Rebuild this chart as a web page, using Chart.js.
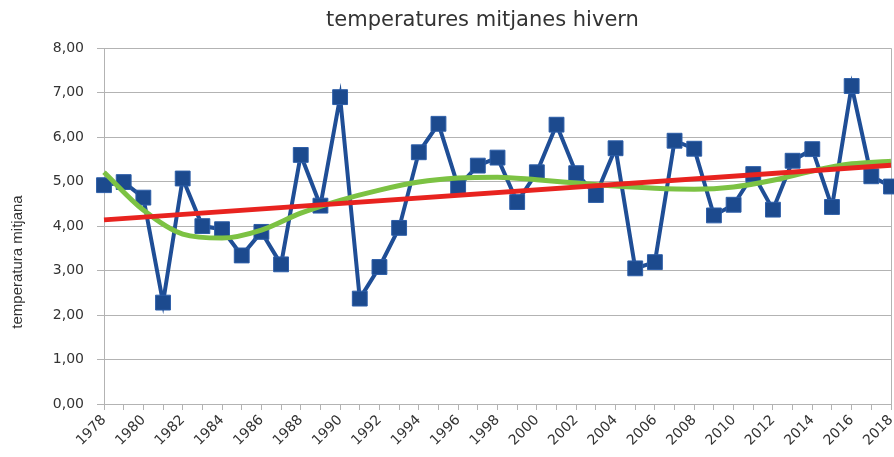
<!DOCTYPE html>
<html>
<head>
<meta charset="utf-8">
<script src="https://cdn.jsdelivr.net/npm/chart.js@4.4.1/dist/chart.umd.min.js"></script>
<style>
  html, body { margin: 0; padding: 0; background: #fff; }
  #wrap { width: 894px; height: 457px; }
</style>
</head>
<body>
<div id="wrap"><canvas id="chart" width="894" height="457"></canvas></div>
<script>
// Data
const years = [
  "1978", "1979", "1980", "1981", "1982", "1983", "1984", "1985", "1986", "1987",
  "1988", "1989", "1990", "1991", "1992", "1993", "1994", "1995", "1996", "1997",
  "1998", "1999", "2000", "2001", "2002", "2003", "2004", "2005", "2006", "2007",
  "2008", "2009", "2010", "2011", "2012", "2013", "2014", "2015", "2016", "2017",
  "2018",
];
const temps = [
  4.92, 4.99, 4.64, 2.28, 5.07, 4.0, 3.93, 3.34, 3.87, 3.14,
  5.6, 4.46, 6.9, 2.37, 3.08, 3.96, 5.66, 6.3, 4.89, 5.36,
  5.54, 4.54, 5.21, 6.28, 5.19, 4.7, 5.75, 3.05, 3.19, 5.92,
  5.74, 4.24, 4.48, 5.17, 4.37, 5.47, 5.73, 4.43, 7.15, 5.12,
  4.89,
];

// linear trend (red), read at both ends
const linearYears = ["1978", "2018"];
const linearValues = [4.14, 5.37];

// polynomial trend (green), read every two years
const polyYears = [
  "1978", "1980", "1982", "1984", "1986", "1988", "1990", "1992", "1994", "1996",
  "1998", "2000", "2002", "2004", "2006", "2008", "2010", "2012", "2014", "2016",
  "2018",
];
const polyValues = [
  5.21, 4.36, 3.82, 3.73, 3.91, 4.29, 4.58, 4.81, 4.99, 5.08,
  5.1, 5.04, 4.97, 4.9, 4.85, 4.83, 4.88, 5.03, 5.24, 5.4,
  5.46,
];

const yTicks = [0, 1, 2, 3, 4, 5, 6, 7, 8];

const gridColor = "#b3b3b3";
const textColor = "#333333";
const yTitleText = "temperatura mitjana";

const toPoints = (xs, ys) => xs.map((x, i) => ({ x: x, y: ys[i] }));

// the title sits a little left of the plot centre, and the y title a bit lower
const titleNudge = {
  id: "titleNudge",
  afterLayout: (chart) => {
    chart.titleBlock.left -= 30;
  },
  afterDraw: (chart) => {
    const c = chart.ctx;
    c.save();
    c.translate(18, 262);
    c.rotate(-Math.PI / 2);
    c.fillStyle = textColor;
    c.font = "15px 'Liberation Sans'";
    c.textAlign = "center";
    c.textBaseline = "middle";
    c.fillText(yTitleText, 0, 0);
    c.restore();
  },
};

const ctx = document.getElementById("chart").getContext("2d");

new Chart(ctx, {
  type: "line",
  data: {
    labels: years,
    datasets: [
      {
        label: "temperatura",
        data: temps,
        borderColor: "#1f4e96",
        backgroundColor: "#1c4a8e",
        borderWidth: 4,
        pointStyle: "rect",
        pointRadius: 10.5,
        pointBorderWidth: 1,
        pointBorderColor: "#2d5ea8",
        tension: 0,
        order: 3,
      },
      {
        label: "lineal",
        data: toPoints(linearYears, linearValues),
        borderColor: "#e8231f",
        borderWidth: 5,
        pointRadius: 0,
        order: 1,
      },
      {
        label: "polinòmica",
        data: toPoints(polyYears, polyValues),
        borderColor: "#7cc243",
        borderWidth: 5,
        pointRadius: 0,
        cubicInterpolationMode: "monotone",
        order: 2,
      },
    ],
  },
  options: {
    responsive: false,
    animation: false,
    // no extra room for the markers: the last one is cut at the edge like in the original
    layout: { autoPadding: false, padding: { left: 0, right: 3, top: 0, bottom: 0 } },
    plugins: {
      legend: { display: false },
      tooltip: { enabled: false },
      title: {
        display: true,
        text: "temperatures mitjanes hivern",
        fullSize: false,
        color: textColor,
        font: { family: "DejaVu Sans", size: 21, weight: "normal" },
        padding: { top: 8, bottom: 15 },
      },
    },
    scales: {
      x: {
        type: "category",
        offset: false,
        grid: {
          display: true,
          drawOnChartArea: true,
          drawTicks: true,
          tickLength: 6,
          // only the last year gets a line across the plot (right frame)
          color: (c) => (c.index === years.length - 1 ? gridColor : "rgba(0,0,0,0)"),
          tickColor: gridColor,
        },
        border: { color: gridColor, width: 1 },
        ticks: {
          autoSkip: false,
          maxRotation: 45,
          minRotation: 45,
          padding: 2,
          color: textColor,
          font: { family: "DejaVu Sans", size: 14 },
          callback: function (value, index) {
            return index % 2 === 0 ? this.getLabelForValue(value) : "";
          },
        },
        afterFit: (scale) => {
          scale.height = 53;
          scale.paddingLeft = 0;
          scale.paddingRight = 0;
        },
      },
      y: {
        min: 0,
        max: 8,
        afterBuildTicks: (scale) => {
          scale.ticks = yTicks.map((v) => ({ value: v }));
        },
        grid: {
          color: gridColor,
          tickLength: 7,
        },
        border: { color: gridColor, width: 1 },
        ticks: {
          padding: 13,
          color: textColor,
          font: { family: "DejaVu Sans", size: 14 },
          callback: (v) => v.toFixed(2).replace(".", ","),
        },
        afterFit: (scale) => {
          scale.width = 104;
        },
      },
    },
  },
  plugins: [titleNudge],
});
</script>
</body>
</html>
